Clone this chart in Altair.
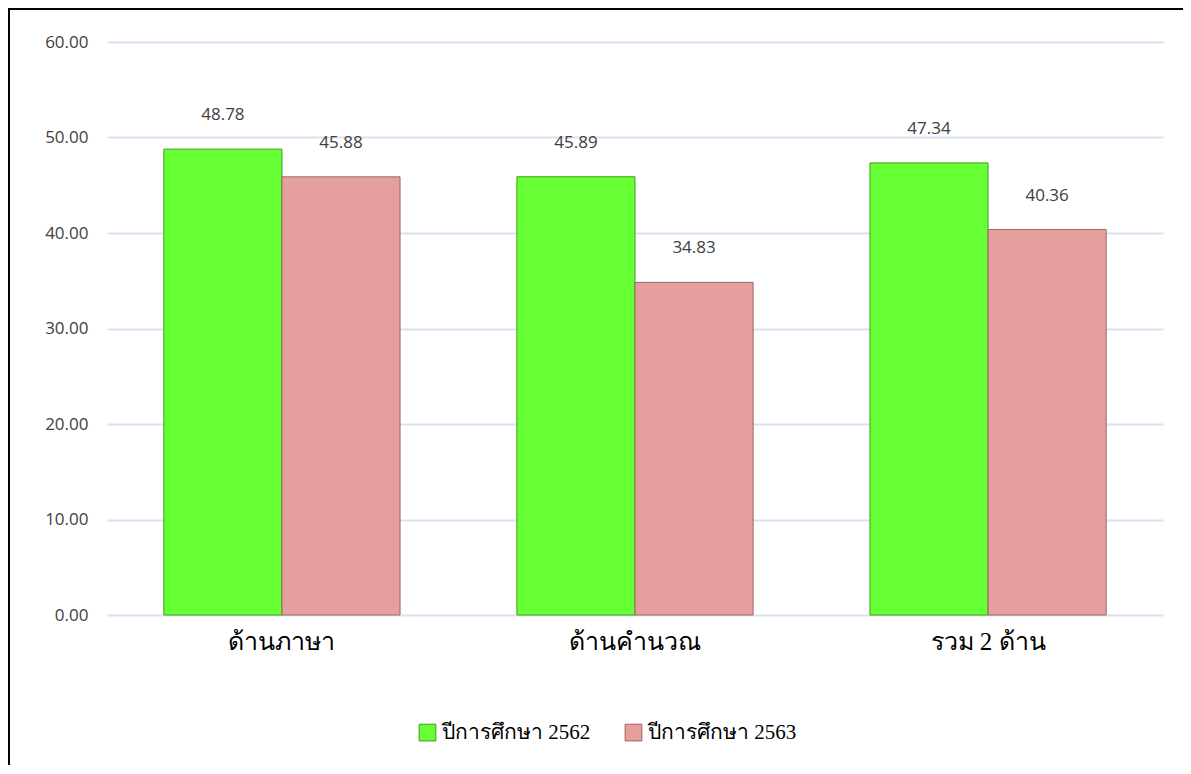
import altair as alt
import pandas as pd

categories = ["ด้านภาษา", "ด้านคำนวณ", "รวม 2 ด้าน"]
series = ["ปีการศึกษา 2562", "ปีการศึกษา 2563"]
values_2562 = [48.78, 45.89, 47.34]
values_2563 = [45.88, 34.83, 40.36]
colors = ["#66FF33", "#E5A09E"]
strokes = ["#3E9E1E", "#9C6462"]

rows = []
for c, v in zip(categories, values_2562):
    rows.append({"cat": c, "series": series[0], "value": v})
for c, v in zip(categories, values_2563):
    rows.append({"cat": c, "series": series[1], "value": v})
df = pd.DataFrame(rows)

x = alt.X("cat:N", sort=categories, title=None,
          scale=alt.Scale(paddingInner=0.331, paddingOuter=0.161),
          axis=alt.Axis(labelAngle=0, labelFont="Liberation Serif", labelFontSize=25,
                        labelColor="#000000", labelPadding=14, ticks=False, domain=False,
                        grid=False))
xo = alt.XOffset("series:N", sort=series, scale=alt.Scale(paddingInner=0, paddingOuter=0))
y = alt.Y("value:Q", title=None,
          scale=alt.Scale(domain=[0, 60], nice=False),
          axis=alt.Axis(values=[0, 10, 20, 30, 40, 50, 60], format=".2f",
                        labelFont="Open Sans", labelFontSize=17, labelColor="#404040",
                        labelPadding=19, ticks=False, domain=False,
                        grid=True, gridColor="#D6E3F3", gridWidth=2))

bars = alt.Chart(df).mark_bar(strokeWidth=1).encode(
    x=x, xOffset=xo, y=y,
    color=alt.Color("series:N", sort=series, title=None,
                    scale=alt.Scale(domain=series, range=colors),
                    legend=alt.Legend(orient="none", legendX=310, legendY=680,
                                      direction="horizontal",
                                      symbolType="square", symbolSize=280,
                                      symbolStrokeWidth=1, symbolStrokeColor="#888888",
                                      labelFont="Liberation Serif", labelFontSize=21,
                                      labelColor="#000000", columnPadding=32,
                                      labelLimit=300)),
    stroke=alt.Stroke("series:N", sort=series, scale=alt.Scale(domain=series, range=strokes),
                      legend=None),
)

labels = alt.Chart(df).mark_text(dy=-34, font="Open Sans", fontSize=17, color="#404040").encode(
    x=alt.X("cat:N", sort=categories), xOffset=alt.XOffset("series:N", sort=series),
    y="value:Q", text=alt.Text("value:Q", format=".2f"),
)

border_top = alt.Chart(df).mark_rule(color="#000000", strokeWidth=2, clip=False).encode(
    x=alt.value(-98), x2=alt.value(1200), y=alt.value(-33))
border_left = alt.Chart(df).mark_rule(color="#000000", strokeWidth=2, clip=False).encode(
    x=alt.value(-98), y=alt.value(-34), y2=alt.value(800))

chart = alt.layer(bars, labels, border_top, border_left).properties(
    width=1056, height=573,
    autosize=alt.AutoSizeParams(type="none"),
    padding={"left": 99, "top": 34, "right": 20, "bottom": 150},
    background="#FFFFFF",
).configure_view(stroke=None)

chart.save("out.html", embed_options={"renderer": "svg", "actions": False})
